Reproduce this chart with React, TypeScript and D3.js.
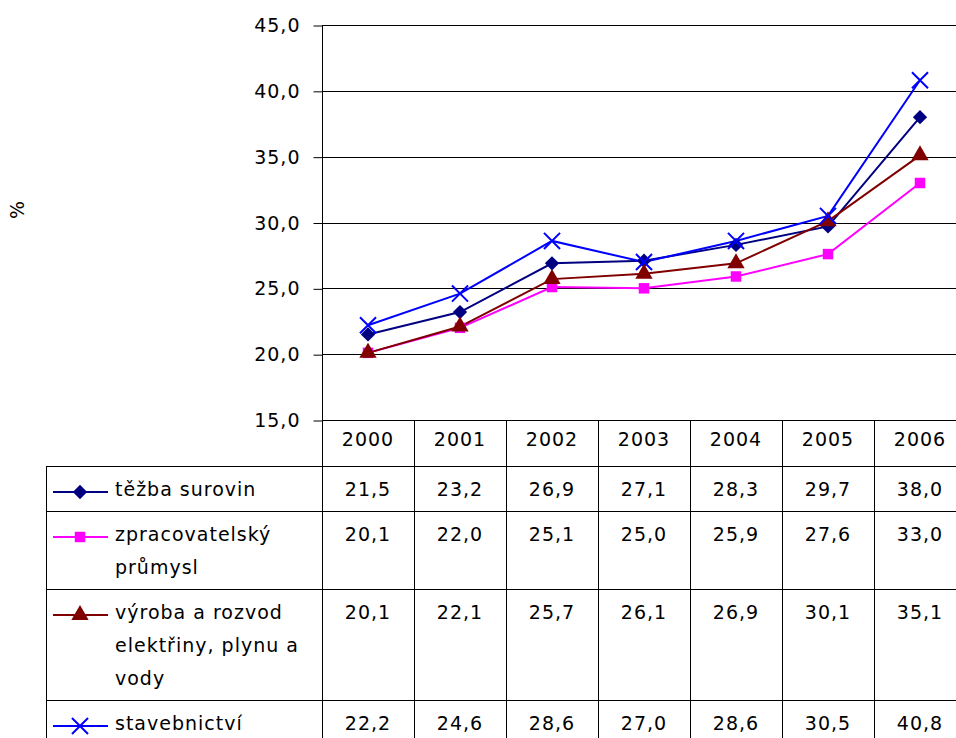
import React, { useEffect, useRef } from 'react';
import * as d3 from 'd3';

const years = ['2000', '2001', '2002', '2003', '2004', '2005', '2006'];
const seriesNames = [
  ['těžba surovin'],
  ['zpracovatelský', 'průmysl'],
  ['výroba a rozvod', 'elektřiny, plynu a', 'vody'],
  ['stavebnictví'],
];
const tezba = [21.5, 23.2, 26.9, 27.1, 28.3, 29.7, 38.0];
const zpracovatelsky = [20.1, 22.0, 25.1, 25.0, 25.9, 27.6, 33.0];
const vyroba = [20.1, 22.1, 25.7, 26.1, 26.9, 30.1, 35.1];
const stavebnictvi = [22.2, 24.6, 28.6, 27.0, 28.6, 30.5, 40.8];
const yTicks = [15, 20, 25, 30, 35, 40, 45];

const colors = ['#000080', '#FF00FF', '#800000', '#0000FF'];
const symbols = [d3.symbolDiamond2, d3.symbolSquare, d3.symbolTriangle, d3.symbolTimes];
const symbolSizes = [130, 110, 130, 170];

const fmt = (v: number) => v.toFixed(1).replace('.', ',');

const App: React.FC = () => {
  const svgRef = useRef<SVGSVGElement>(null);
  const width = 956;
  const height = 738;

  useEffect(() => {
    if (!svgRef.current) return;
    const svg = d3.select(svgRef.current);
    svg.selectAll('*').remove();

    const font = "'DejaVu Sans', Verdana, sans-serif";
    const fs = 19;
    const ls = 1;
    const plotLeft = 322;
    const colW = 92;
    const tableLeft = 46;
    const plotTop = 25;
    const plotBottom = 420;
    const headerBottom = 466;

    const data = [tezba, zpracovatelsky, vyroba, stavebnictvi];

    const x = d3.scaleBand<string>()
      .domain(years)
      .range([plotLeft, plotLeft + colW * years.length])
      .padding(0);

    const y = d3.scaleLinear()
      .domain([15, 45])
      .range([plotBottom, plotTop]);

    // Mřížka
    svg.append('g')
      .selectAll('line')
      .data(yTicks)
      .join('line')
      .attr('x1', plotLeft)
      .attr('x2', width)
      .attr('y1', d => Math.round(y(d)) + 0.5)
      .attr('y2', d => Math.round(y(d)) + 0.5)
      .attr('stroke', '#000')
      .attr('stroke-width', 1);

    // Osa Y
    const yAxis = d3.axisLeft(y)
      .tickValues(yTicks)
      .tickFormat(d => fmt(d as number))
      .tickSize(9)
      .tickPadding(13);

    const gy = svg.append('g')
      .attr('transform', `translate(${plotLeft + 0.5},0.5)`)
      .call(yAxis);
    gy.select('.domain').remove();
    gy.selectAll('.tick line').attr('stroke', '#000');
    gy.selectAll('.tick text')
      .attr('font-family', font)
      .attr('font-size', fs)
      .attr('letter-spacing', ls)
      .attr('fill', '#000');

    svg.append('text')
      .attr('transform', 'translate(24,210) rotate(-90)')
      .attr('text-anchor', 'middle')
      .attr('font-family', font)
      .attr('font-size', fs)
      .text('%');

    // Tabulka
    const rowHeights = seriesNames.map(n => 45 + 33 * (n.length - 1));
    const rowTops: number[] = [];
    let acc = headerBottom;
    rowHeights.forEach(h => { rowTops.push(acc); acc += h; });
    const tableBottom = acc;

    const tbl = svg.append('g');
    // vodorovné čáry
    tbl.append('line')
      .attr('x1', plotLeft).attr('x2', width)
      .attr('y1', plotBottom + 0.5).attr('y2', plotBottom + 0.5)
      .attr('stroke', '#000');
    rowTops.concat([tableBottom]).forEach(t => {
      tbl.append('line')
        .attr('x1', tableLeft).attr('x2', width)
        .attr('y1', t + 0.5).attr('y2', t + 0.5)
        .attr('stroke', '#000');
    });
    // svislé čáry
    tbl.append('line')
      .attr('x1', tableLeft + 0.5).attr('x2', tableLeft + 0.5)
      .attr('y1', headerBottom).attr('y2', tableBottom)
      .attr('stroke', '#000');
    years.forEach((yr, i) => {
      const xx = (x(yr) as number) + 0.5;
      tbl.append('line')
        .attr('x1', xx).attr('x2', xx)
        .attr('y1', i === 0 ? plotTop : plotBottom).attr('y2', tableBottom)
        .attr('stroke', '#000');
    });

    // hlavička roků
    tbl.selectAll('text.year')
      .data(years)
      .join('text')
      .attr('class', 'year')
      .attr('x', d => (x(d) as number) + x.bandwidth() / 2)
      .attr('y', plotBottom + 26)
      .attr('text-anchor', 'middle')
      .attr('font-family', font)
      .attr('font-size', fs)
      .attr('letter-spacing', ls)
      .text(d => d);

    // řádky
    data.forEach((vals, si) => {
      const top = rowTops[si];
      const base = top + 30;
      const g = tbl.append('g');
      g.append('line')
        .attr('x1', 53).attr('x2', 108)
        .attr('y1', base - 4).attr('y2', base - 4)
        .attr('stroke', colors[si])
        .attr('stroke-width', 2);
      g.append('path')
        .attr('transform', `translate(80,${base - 4})`)
        .attr('d', d3.symbol(symbols[si], symbolSizes[si])())
        .attr('fill', si === 3 ? 'none' : colors[si])
        .attr('stroke', si === 3 ? colors[si] : 'none')
        .attr('stroke-width', 2);
      seriesNames[si].forEach((ln, li) => {
        g.append('text')
          .attr('x', 115)
          .attr('y', base + li * 33)
          .attr('font-family', font)
          .attr('font-size', fs)
          .attr('letter-spacing', ls)
          .text(ln);
      });
      g.selectAll('text.val')
        .data(vals)
        .join('text')
        .attr('class', 'val')
        .attr('x', (_, i) => (x(years[i]) as number) + x.bandwidth() / 2)
        .attr('y', base)
        .attr('text-anchor', 'middle')
        .attr('font-family', font)
        .attr('font-size', fs)
        .attr('letter-spacing', ls)
        .text(d => fmt(d));
    });

    // Čáry řad
    const cx = (i: number) => (x(years[i]) as number) + x.bandwidth() / 2;
    data.forEach((vals, si) => {
      const line = d3.line<number>()
        .x((_, i) => cx(i))
        .y(d => y(d));
      svg.append('path')
        .datum(vals)
        .attr('fill', 'none')
        .attr('stroke', colors[si])
        .attr('stroke-width', 2)
        .attr('d', line);
    });
    data.forEach((vals, si) => {
      svg.append('g')
        .selectAll('path')
        .data(vals)
        .join('path')
        .attr('transform', (d, i) => `translate(${cx(i)},${y(d)})`)
        .attr('d', d3.symbol(symbols[si], symbolSizes[si])())
        .attr('fill', si === 3 ? 'none' : colors[si])
        .attr('stroke', si === 3 ? colors[si] : 'none')
        .attr('stroke-width', 2);
    });
  }, []);

  return (
    <svg
      ref={svgRef}
      width={width}
      height={height}
      style={{ position: 'absolute', left: 0, top: 0, background: '#fff' }}
    />
  );
};

export default App;
